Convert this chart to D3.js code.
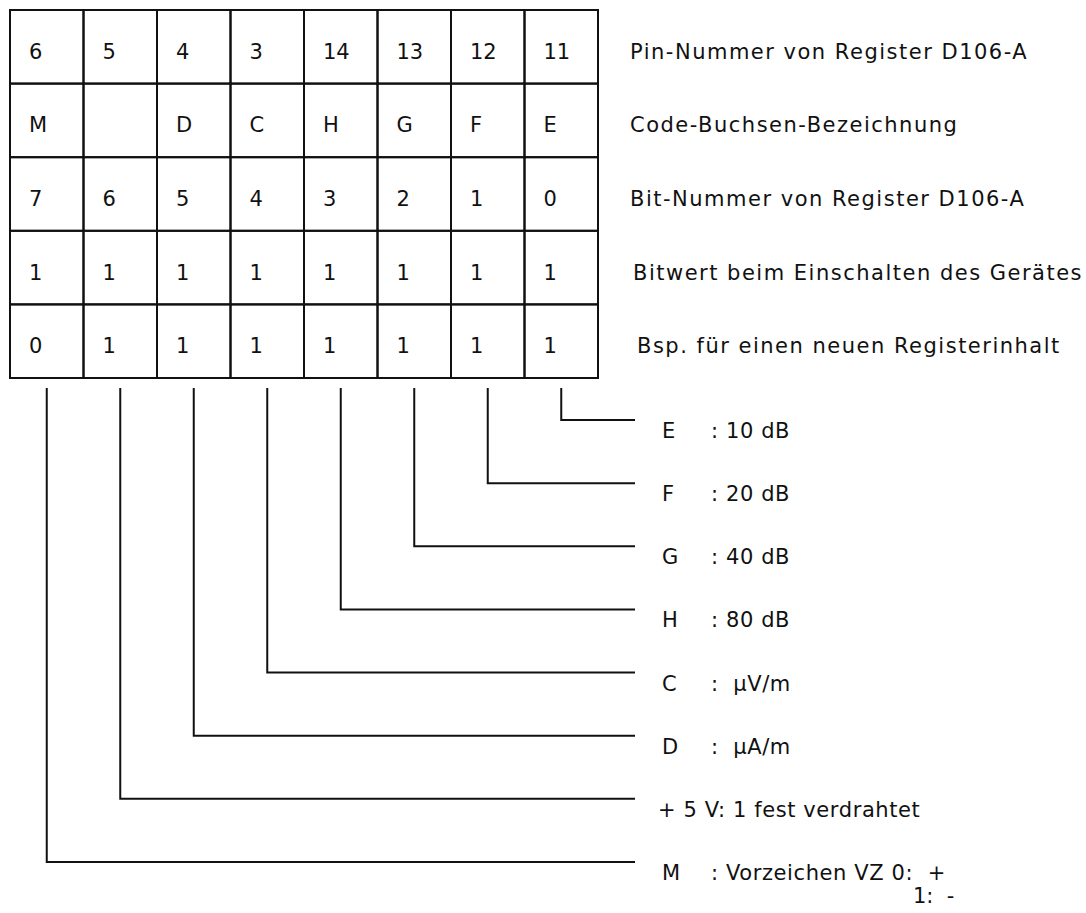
<!DOCTYPE html>
<html>
<head>
<meta charset="utf-8">
<script src="https://cdn.jsdelivr.net/npm/d3@7"></script>
<style>
  html, body { margin: 0; padding: 0; background: #fff; }
  svg text { font-family: "DejaVu Sans", "Open Sans", sans-serif; fill: #111; white-space: pre; }
</style>
</head>
<body>
<svg id="chart" width="1086" height="913"></svg>
<script>
// ---- data ----
const pinNumbers = ["6", "5", "4", "3", "14", "13", "12", "11"];
const codeLetters = ["M", "", "D", "C", "H", "G", "F", "E"];
const bitNumbers = ["7", "6", "5", "4", "3", "2", "1", "0"];
const powerOnBits = ["1", "1", "1", "1", "1", "1", "1", "1"];
const exampleBits = ["0", "1", "1", "1", "1", "1", "1", "1"];
const rowLabels = [
  "Pin-Nummer von Register D106-A",
  "Code-Buchsen-Bezeichnung",
  "Bit-Nummer von Register D106-A",
  "Bitwert beim Einschalten des Gerätes",
  "Bsp. für einen neuen Registerinhalt"
];
// leader legend, top to bottom: column index, label letter, description
const legendColumns = [7, 6, 5, 4, 3, 2, 1, 0];
const legendLetters = ["E", "F", "G", "H", "C", "D", "", "M"];
const legendTexts = [": 10 dB", ": 20 dB", ": 40 dB", ": 80 dB", ":  \u00b5V/m", ":  \u00b5A/m", "+ 5 V: 1 fest verdrahtet", ": Vorzeichen VZ 0:  +"];
const extraLine = "1:  -";

const rows = [pinNumbers, codeLetters, bitNumbers, powerOnBits, exampleBits];

// ---- layout ----
const svg = d3.select("#chart");
const x = d3.scaleBand().domain(d3.range(8)).range([10, 598]);
const y = d3.scaleBand().domain(d3.range(5)).range([10, 378]);
const ly = d3.scalePoint().domain(d3.range(legendColumns.length)).range([420, 862]);
const lineEnd = 635;
const fs = 21;

// table cells
const g = svg.append("g");
rows.forEach((vals, r) => {
  g.selectAll(null).data(vals).enter().append("rect")
    .attr("x", (d, i) => x(i)).attr("y", y(r))
    .attr("width", x.bandwidth()).attr("height", y.bandwidth())
    .attr("fill", "none").attr("stroke", "#111").attr("stroke-width", 2);
  g.selectAll(null).data(vals).enter().append("text")
    .attr("x", (d, i) => x(i) + 19).attr("y", y(r) + y.bandwidth() / 2 + 12)
    .attr("font-size", 21).text(d => d);
});
// row labels
svg.selectAll(".rl").data(rowLabels).enter().append("text")
  .attr("class", "rl")
  .attr("x", (d, i) => i >= 3 ? 633 + (i - 3) * 4 : 630)
  .attr("y", (d, i) => y(i) + y.bandwidth() / 2 + 12)
  .attr("font-size", fs).attr("letter-spacing", 1.5).text(d => d);

// leader lines
const lg = svg.append("g").attr("fill", "none").attr("stroke", "#111").attr("stroke-width", 2);
legendColumns.forEach((c, k) => {
  const cx = x(c) + x.bandwidth() / 2;
  lg.append("path").attr("d", `M${cx},388 V${ly(k)} H${lineEnd}`);
});
// legend labels
legendColumns.forEach((c, k) => {
  const yy = ly(k) + 18;
  if (legendLetters[k]) {
    svg.append("text").attr("x", 662).attr("y", yy).attr("font-size", fs).text(legendLetters[k]);
    svg.append("text").attr("x", 711).attr("y", yy).attr("font-size", fs).attr("letter-spacing", 0.6).text(legendTexts[k]);
  } else {
    svg.append("text").attr("x", 658).attr("y", yy).attr("font-size", fs).attr("letter-spacing", 0.6).text(legendTexts[k]);
  }
});
svg.append("text").attr("x", 913).attr("y", ly(legendColumns.length - 1) + 41).attr("font-size", fs).text(extraLine);
</script>
</body>
</html>
